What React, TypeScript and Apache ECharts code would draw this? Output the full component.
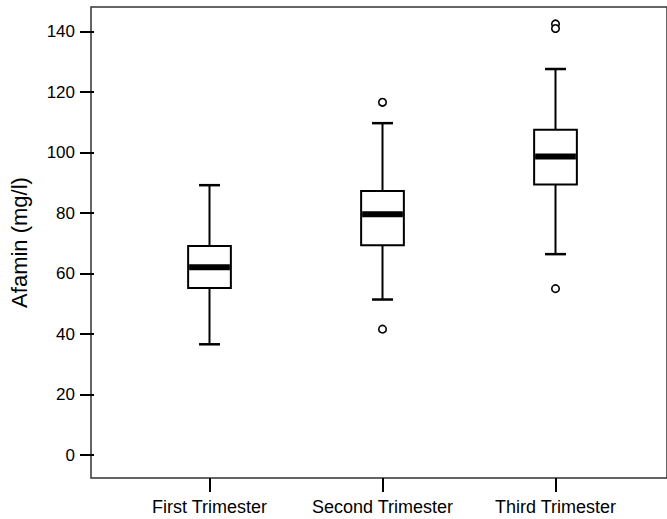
import React, { useEffect, useRef } from "react";
import * as echarts from "echarts";

const categories = ["First Trimester", "Second Trimester", "Third Trimester"];
const whiskerLow = [36.6, 51.4, 66.4];
const quartile1 = [55.2, 69.3, 89.4];
const median = [62.1, 79.6, 98.7];
const quartile3 = [69.1, 87.3, 107.5];
const whiskerHigh = [89.2, 109.7, 127.6];
const outlierCategory = [1, 1, 2, 2, 2];
const outlierValue = [116.6, 41.6, 142.5, 141.0, 55.0];
const yTicks = [0, 20, 40, 60, 80, 100, 120, 140];
const yMin = -7.6;
const yMax = 148.1;
const yName = "Afamin (mg/l)";

export default function App() {
  const ref = useRef<HTMLDivElement>(null);
  useEffect(() => {
    if (!ref.current) return;
    const chart = echarts.init(ref.current, null, { renderer: "svg" });
    const boxData = categories.map((_, i) => [
      i,
      whiskerLow[i],
      quartile1[i],
      median[i],
      quartile3[i],
      whiskerHigh[i],
    ]);
    const outliers = outlierCategory.map((c, i) => [c, outlierValue[i]]);
    const font = "'Liberation Sans', Arial, sans-serif";
    chart.setOption({
      animation: false,
      backgroundColor: "#fff",
      grid: [
        { left: 120, right: 25, top: 7, bottom: 41, show: false },
        {
          left: 91,
          right: -4,
          top: 7,
          bottom: 41,
          show: true,
          borderColor: "#333",
          borderWidth: 1.5,
          backgroundColor: "transparent",
        },
      ],
      xAxis: [
        {
          type: "category",
          gridIndex: 0,
          data: categories,
          boundaryGap: true,
          position: "bottom",
          axisLine: { show: false, onZero: false },
          axisTick: {
            show: true,
            alignWithLabel: true,
            interval: 0,
            length: 14,
            lineStyle: { color: "#000", width: 2 },
          },
          axisLabel: {
            color: "#000",
            fontSize: 18,
            fontFamily: font,
            margin: 20,
            interval: 0,
          },
          splitLine: { show: false },
        },
        { type: "value", gridIndex: 1, show: false },
      ],
      yAxis: [
        {
          type: "value",
          gridIndex: 0,
          min: yMin,
          max: yMax,
          offset: 29,
          name: yName,
          nameLocation: "middle",
          nameGap: 64,
          nameTextStyle: { color: "#000", fontSize: 22, fontFamily: font },
          axisLine: { show: false },
          axisTick: {
            show: true,
            length: 14,
            customValues: yTicks,
            lineStyle: { color: "#000", width: 2 },
          },
          axisLabel: {
            color: "#000",
            fontSize: 17,
            fontFamily: font,
            margin: 19,
            customValues: yTicks,
          },
          splitLine: { show: false },
        },
        { type: "value", gridIndex: 1, show: false },
      ],
      series: [
        {
          type: "custom",
          xAxisIndex: 0,
          yAxisIndex: 0,
          data: boxData,
          encode: { x: 0, y: [1, 2, 3, 4, 5] },
          renderItem: (params: any, api: any) => {
            const i = api.value(0);
            const x = api.coord([i, api.value(3)])[0];
            const yLo = api.coord([i, api.value(1)])[1];
            const yQ1 = api.coord([i, api.value(2)])[1];
            const yMed = api.coord([i, api.value(3)])[1];
            const yQ3 = api.coord([i, api.value(4)])[1];
            const yHi = api.coord([i, api.value(5)])[1];
            const band = api.size([1, 0])[0];
            const bw = band * 0.247;
            const cw = bw * 0.49;
            const st = { stroke: "#000", lineWidth: 2 };
            return {
              type: "group",
              children: [
                { type: "line", shape: { x1: x, y1: yHi, x2: x, y2: yQ3 }, style: st },
                { type: "line", shape: { x1: x, y1: yQ1, x2: x, y2: yLo }, style: st },
                { type: "line", shape: { x1: x - cw / 2, y1: yHi, x2: x + cw / 2, y2: yHi }, style: { stroke: "#000", lineWidth: 2.5 } },
                { type: "line", shape: { x1: x - cw / 2, y1: yLo, x2: x + cw / 2, y2: yLo }, style: { stroke: "#000", lineWidth: 2.5 } },
                {
                  type: "rect",
                  shape: { x: x - bw / 2, y: yQ3, width: bw, height: yQ1 - yQ3 },
                  style: { fill: "#fff", stroke: "#000", lineWidth: 2 },
                },
                {
                  type: "line",
                  shape: { x1: x - bw / 2 + 1, y1: yMed, x2: x + bw / 2 - 1, y2: yMed },
                  style: { stroke: "#000", lineWidth: 6 },
                },
              ],
            };
          },
        },
        {
          type: "scatter",
          xAxisIndex: 0,
          yAxisIndex: 0,
          data: outliers,
          symbol: "circle",
          symbolSize: 7.5,
          itemStyle: { color: "#fff", borderColor: "#000", borderWidth: 1.6, opacity: 1 },
          z: 5,
        },
      ],
    });
    return () => chart.dispose();
  }, []);
  return (
    <div
      ref={ref}
      style={{ position: "fixed", left: 0, top: 0, width: 667, height: 519 }}
    />
  );
}
